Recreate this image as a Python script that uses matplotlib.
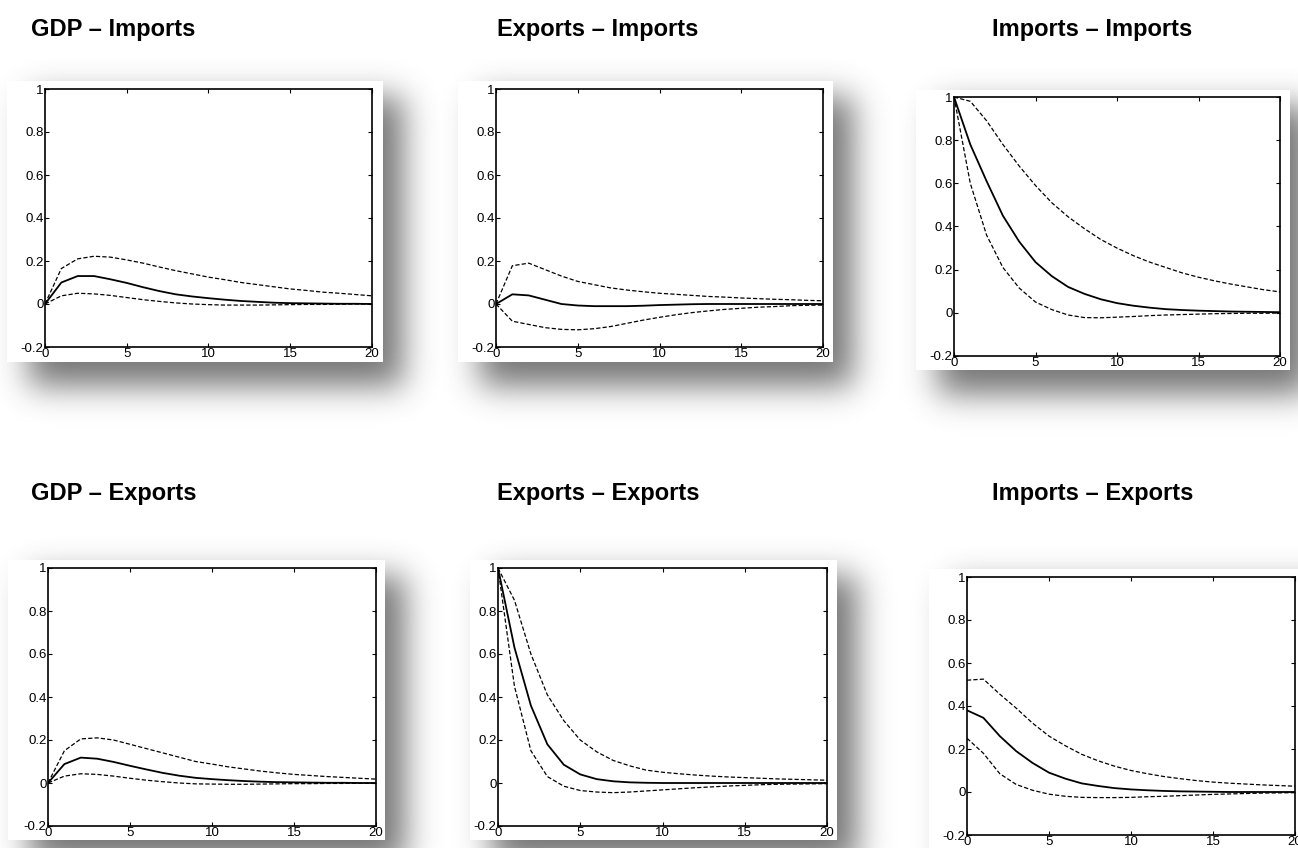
import math
import numpy as np
import matplotlib
matplotlib.use("Agg")
import matplotlib.pyplot as plt
from matplotlib.patches import Rectangle

plt.rcParams['font.family'] = ['Liberation Sans', 'DejaVu Sans']

# impulse responses, horizons 0..20
horizon = list(range(21))

titles = ["GDP \u2013 Imports", "Exports \u2013 Imports", "Imports \u2013 Imports",
          "GDP \u2013 Exports", "Exports \u2013 Exports", "Imports \u2013 Exports"]

gdp_imp = [0, 0.10, 0.13, 0.13, 0.115, 0.098, 0.078, 0.06, 0.045, 0.035, 0.027,
           0.02, 0.014, 0.01, 0.006, 0.004, 0.003, 0.002, 0.001, 0.001, 0.0]
gdp_imp_hi = [0, 0.165, 0.21, 0.222, 0.218, 0.205, 0.19, 0.172, 0.155, 0.14, 0.125,
              0.113, 0.10, 0.09, 0.08, 0.07, 0.063, 0.055, 0.05, 0.044, 0.038]
gdp_imp_lo = [0, 0.038, 0.05, 0.047, 0.04, 0.03, 0.02, 0.012, 0.005, 0.0, -0.003,
              -0.005, -0.005, -0.005, -0.004, -0.003, -0.002, -0.002, -0.001, 0, 0]

exp_imp = [0, 0.045, 0.04, 0.02, 0.0, -0.007, -0.01, -0.01, -0.01, -0.008, -0.005,
           -0.003, -0.001, 0, 0, 0, 0, 0, 0, 0, 0]
exp_imp_hi = [0, 0.178, 0.19, 0.16, 0.13, 0.105, 0.09, 0.075, 0.065, 0.057, 0.05,
              0.045, 0.04, 0.035, 0.032, 0.028, 0.025, 0.022, 0.02, 0.017, 0.015]
exp_imp_lo = [0, -0.08, -0.095, -0.11, -0.118, -0.12, -0.115, -0.105, -0.09, -0.075, -0.062,
              -0.05, -0.04, -0.032, -0.025, -0.02, -0.015, -0.012, -0.008, -0.006, -0.005]

imp_imp = [1.0, 0.78, 0.61, 0.45, 0.33, 0.235, 0.17, 0.12, 0.088, 0.063, 0.045,
           0.033, 0.024, 0.017, 0.013, 0.01, 0.008, 0.006, 0.005, 0.004, 0.003]
imp_imp_hi = [1.0, 0.98, 0.89, 0.78, 0.68, 0.59, 0.51, 0.445, 0.39, 0.34, 0.30,
              0.265, 0.235, 0.21, 0.185, 0.165, 0.148, 0.133, 0.12, 0.107, 0.097]
imp_imp_lo = [1.0, 0.60, 0.36, 0.21, 0.115, 0.05, 0.015, -0.01, -0.022, -0.023, -0.02,
              -0.017, -0.013, -0.01, -0.008, -0.006, -0.004, -0.003, -0.002, -0.002, -0.001]

gdp_exp = [0, 0.088, 0.118, 0.113, 0.098, 0.08, 0.063, 0.047, 0.034, 0.024, 0.018,
           0.013, 0.009, 0.006, 0.004, 0.003, 0.002, 0.001, 0.001, 0, 0]
gdp_exp_hi = [0, 0.15, 0.205, 0.21, 0.20, 0.18, 0.16, 0.14, 0.12, 0.10, 0.088,
              0.075, 0.065, 0.055, 0.047, 0.04, 0.035, 0.03, 0.026, 0.022, 0.018]
gdp_exp_lo = [0, 0.032, 0.043, 0.04, 0.032, 0.022, 0.013, 0.006, 0.0, -0.004, -0.005,
              -0.006, -0.006, -0.005, -0.004, -0.003, -0.003, -0.002, -0.002, -0.001, -0.001]

exp_exp = [1.0, 0.63, 0.36, 0.18, 0.085, 0.04, 0.018, 0.008, 0.003, 0.001, 0,
           0, 0, 0, 0, 0, 0, 0, 0, 0, 0]
exp_exp_hi = [1.0, 0.85, 0.60, 0.41, 0.29, 0.20, 0.145, 0.105, 0.08, 0.06, 0.05,
              0.043, 0.037, 0.032, 0.028, 0.025, 0.022, 0.019, 0.017, 0.015, 0.013]
exp_exp_lo = [1.0, 0.45, 0.15, 0.03, -0.015, -0.035, -0.042, -0.045, -0.042, -0.037, -0.032,
              -0.027, -0.022, -0.018, -0.014, -0.011, -0.008, -0.006, -0.005, -0.004, -0.003]

imp_exp = [0.38, 0.345, 0.26, 0.19, 0.135, 0.09, 0.062, 0.04, 0.028, 0.018, 0.012,
           0.008, 0.005, 0.003, 0.002, 0.001, 0, 0, 0, 0, 0]
imp_exp_hi = [0.52, 0.525, 0.455, 0.39, 0.32, 0.26, 0.215, 0.175, 0.145, 0.12, 0.10,
              0.085, 0.072, 0.062, 0.053, 0.046, 0.041, 0.037, 0.033, 0.03, 0.027]
imp_exp_lo = [0.25, 0.18, 0.085, 0.035, 0.008, -0.01, -0.02, -0.025, -0.026, -0.026, -0.025,
              -0.022, -0.02, -0.017, -0.014, -0.011, -0.009, -0.007, -0.005, -0.004, -0.003]

series = [(gdp_imp, gdp_imp_hi, gdp_imp_lo), (exp_imp, exp_imp_hi, exp_imp_lo),
          (imp_imp, imp_imp_hi, imp_imp_lo), (gdp_exp, gdp_exp_hi, gdp_exp_lo),
          (exp_exp, exp_exp_hi, exp_exp_lo), (imp_exp, imp_exp_hi, imp_exp_lo)]

xticks = [0, 5, 10, 15, 20]
yticks = [-0.2, 0, 0.2, 0.4, 0.6, 0.8, 1]
ytick_labels = ["-0.2", "0", "0.2", "0.4", "0.6", "0.8", "1"]

# layout in pixels (left, top, right, bottom)
W, H = 1298, 848
cards = [(7, 81, 383, 362), (458, 81, 833, 362), (916, 90, 1290, 370),
         (8, 560, 385, 840), (470, 560, 837, 840), (929, 569, 1320, 870)]
boxes = [(45, 89, 372, 347), (496, 89, 823, 347), (954, 97, 1280, 356),
         (48, 568, 376, 826), (498, 568, 827, 826), (967, 577, 1295, 835)]
title_pos = [(31, 36), (497, 36), (992, 36), (31, 500), (497, 500), (992, 500)]

fig = plt.figure(figsize=(W / 100, H / 100), dpi=100)
fig.patch.set_facecolor("white")

# soft drop shadow behind each picture
erf = np.vectorize(math.erf)
xs = np.arange(W) + 0.5
ys = np.arange(H) + 0.5
shade = np.zeros((H, W))
sig = 16.0 * math.sqrt(2)
for (l, t, r, b) in cards:
    px = 0.5 * (erf((xs - (l + 22)) / sig) - erf((xs - (r + 20)) / sig))
    py = 0.5 * (erf((ys - (t + 16)) / sig) - erf((ys - (b + 24)) / sig))
    shade = np.maximum(shade, np.outer(py, px))
img = np.zeros((H, W, 4))
img[..., :3] = 0.25
img[..., 3] = shade * 0.72

bg = fig.add_axes([0, 0, 1, 1])
bg.set_zorder(-1)
bg.imshow(img, extent=(0, W, H, 0), aspect="auto", interpolation="bilinear")
bg.set_xlim(0, W)
bg.set_ylim(H, 0)
bg.axis("off")
for (l, t, r, b) in cards:
    bg.add_patch(Rectangle((l, t), r - l, b - t, facecolor="white", edgecolor="none"))

for (tx, ty), title in zip(title_pos, titles):
    bg.text(tx, ty, title, fontsize=17, fontweight="bold", ha="left", va="baseline")

for (l, t, r, b), (mid, hi, lo) in zip(boxes, series):
    ax = fig.add_axes([l / W, 1 - b / H, (r - l) / W, (b - t) / H])
    ax.plot(horizon, mid, color="black", lw=1.3)
    ax.plot(horizon, hi, color="black", lw=0.9, dashes=(3.4, 1.7))
    ax.plot(horizon, lo, color="black", lw=0.9, dashes=(3.4, 1.7))
    ax.set_xlim(0, 20)
    ax.set_ylim(-0.2, 1)
    ax.set_xticks(xticks)
    ax.set_xticklabels([str(v) for v in xticks])
    ax.set_yticks(yticks)
    ax.set_yticklabels(ytick_labels)
    ax.tick_params(direction="in", length=3, width=0.8, top=True, right=True,
                   labelsize=9.5, pad=1)
    for sp in ax.spines.values():
        sp.set_linewidth(1.2)

fig.savefig("out.png", dpi=100)
